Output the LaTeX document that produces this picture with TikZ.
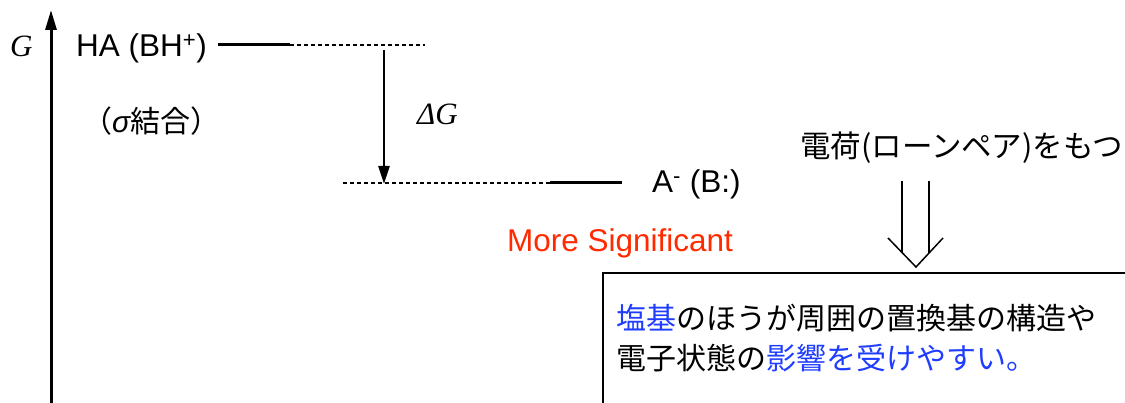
\documentclass[tikz,border=0pt]{standalone}
\usepackage{fontspec}
\setmainfont{Liberation Sans}
\newfontfamily\jp{Noto Sans CJK JP}
\newfontfamily\tms{Liberation Serif}
\usetikzlibrary{arrows.meta}
\definecolor{sigred}{HTML}{FF2A00}
\definecolor{jpblue}{HTML}{1F3DFF}
\tikzset{
  lbl/.style={inner sep=0pt, font=\fontsize{31.5}{38}\selectfont},
  serifit/.style={inner sep=0pt, font=\tms\itshape\fontsize{31}{37}\selectfont},
  jplbl/.style={inner sep=0pt, font=\jp\fontsize{30}{40}\selectfont},
  level/.style={line width=3pt},
  guide/.style={line width=1.5pt, dash pattern=on 4pt off 3pt},
  axis/.style={line width=3pt, -{Triangle[length=20pt,width=11pt]}},
  darrow/.style={line width=2.6pt, -{Triangle[length=18pt,width=11pt]}},
  hollow/.style={line width=1.5pt},
}
\begin{document}
\begin{tikzpicture}[x=1pt,y=-1pt]
\useasboundingbox (0,0) rectangle (1125,403);
\clip (0,0) rectangle (1125,403);
% axis
\coordinate (axb) at (51,405);
\coordinate (axt) at (51,10);
\draw[axis] (axb) -- (axt);
\node[serifit, anchor=base west] (G) at (10,57) {G};
% HA level
\node[lbl, anchor=base west] (HA) at (76,57) {HA (BH\textsuperscript{+})};
\coordinate (h1) at (218,45);
\coordinate (h2) at (290,45);
\coordinate (h3) at (425,45);
\draw[level] (h1) -- (h2);
\draw[guide] (h2) -- (h3);
\node[jplbl, anchor=base west] (sig) at (82,133) {（{\fontspec{Liberation Sans}\itshape σ}結合）};
% A- level
\coordinate (a1) at (343,183);
\coordinate (a2) at (550,183);
\coordinate (a3) at (622,183);
\draw[guide] (a1) -- (a2);
\draw[level] (a2) -- (a3);
\node[lbl, anchor=base west] (A) at (652,193) {A\textsuperscript{-} (B:)};
% delta G arrow
\coordinate (d1) at (384,50);
\coordinate (d2) at (384,184);
\draw[darrow] (d1) -- (d2);
\node[serifit, anchor=base west] (dG) at (417,125) {ΔG};
% More significant
\node[lbl, anchor=base west, text=sigred] (ms) at (507,252) {More Significant};
% charge text
\node[jplbl, anchor=base west, font=\jp\fontsize{30.5}{40}\selectfont] (chg) at (800,158) {電荷(ローンペア)をもつ};
% hollow arrow
\coordinate (l1) at (902,181);
\coordinate (l2) at (902,252.5);
\coordinate (r1) at (929,181);
\coordinate (r2) at (929,253);
\coordinate (hl) at (888,238);
\coordinate (tip) at (916,267);
\coordinate (hr) at (943,238);
\draw[hollow] (l1) -- (l2);
\draw[hollow] (r1) -- (r2);
\draw[hollow] (hl) -- (tip) -- (hr);
% box
\draw[line width=2.2pt] (603,420) -- (603,273) -- (1140,273);
\node[jplbl, anchor=base west] (t1) at (616,330) {\textcolor{jpblue}{塩基}のほうが周囲の置換基の構造や};
\node[jplbl, anchor=base west] (t2) at (616,370) {電子状態の\textcolor{jpblue}{影響を受けやすい。}};
\end{tikzpicture}
\end{document}
